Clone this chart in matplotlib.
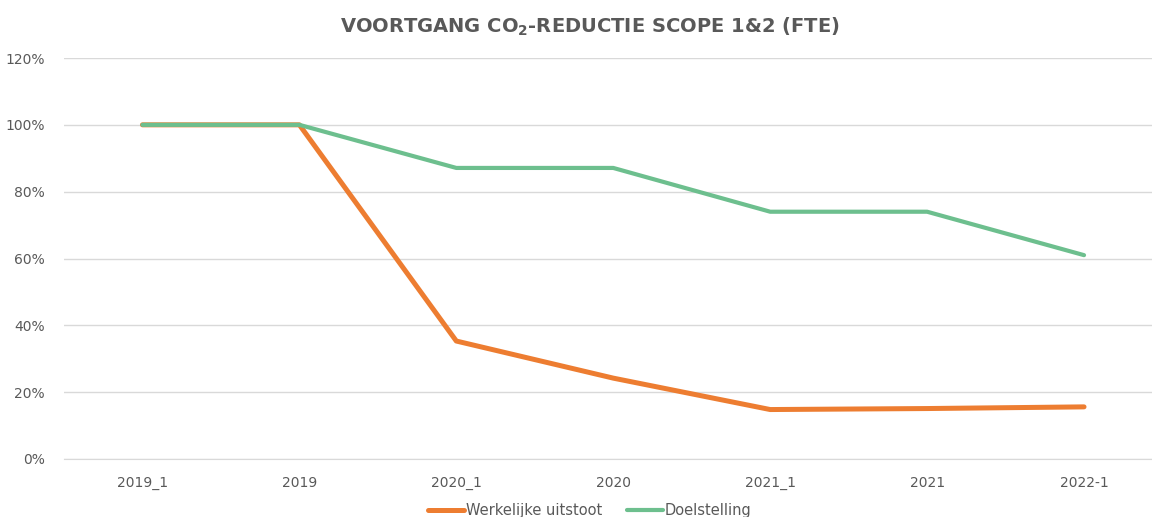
import matplotlib.pyplot as plt
from matplotlib.ticker import FuncFormatter

periods = ["2019_1", "2019", "2020_1", "2020", "2021_1", "2021", "2022-1"]
werkelijke_uitstoot = [100.0, 100.0, 35.3, 24.2, 14.8, 15.1, 15.6]
doelstelling = [100.0, 100.0, 87.1, 87.1, 74.0, 74.0, 61.0]

orange = "#ED7D31"
green = "#6DBF8E"
text_grey = "#595959"
grid_grey = "#D9D9D9"

fig = plt.figure(figsize=(11.52, 5.17), dpi=100)
ax = fig.add_axes([64 / 1152, 1 - 459 / 517, 1 - 64 / 1152, (459 - 58) / 517])

x = range(len(periods))
ax.plot(x, werkelijke_uitstoot, color=orange, linewidth=3.6,
        solid_capstyle="round", solid_joinstyle="round", label="Werkelijke uitstoot")
ax.plot(x, doelstelling, color=green, linewidth=3.0,
        solid_capstyle="round", solid_joinstyle="round", label="Doelstelling")

ax.set_xlim(-0.5, (1152 - 142) / 157)
ax.set_ylim(0, 120)
ax.set_yticks(range(0, 121, 20))
ax.yaxis.set_major_formatter(FuncFormatter(lambda v, p: f"{v:.0f}%"))
ax.set_xticks(list(x))
ax.set_xticklabels(periods)

ax.grid(axis="y", color=grid_grey, linewidth=1)
ax.set_axisbelow(True)
for side in ["top", "right", "left"]:
    ax.spines[side].set_visible(False)
ax.spines["bottom"].set_color(grid_grey)
ax.tick_params(axis="both", length=0, colors=text_grey, labelsize=10)
ax.tick_params(axis="x", pad=12)
ax.tick_params(axis="y", pad=14)

fig.text(0.512, 1 - 27 / 517, r"VOORTGANG CO$_\mathbf{2}$-REDUCTIE SCOPE 1&2 (FTE)",
         ha="center", va="center", fontsize=14, fontweight="bold", color=text_grey)

fig.legend(loc="center", bbox_to_anchor=(0.512, 1 - 511 / 517), ncol=2, frameon=False,
           fontsize=10.5, handlelength=2.5, handletextpad=0.1, columnspacing=1.7,
           labelcolor=text_grey)

fig.savefig("out.png", dpi=100)
